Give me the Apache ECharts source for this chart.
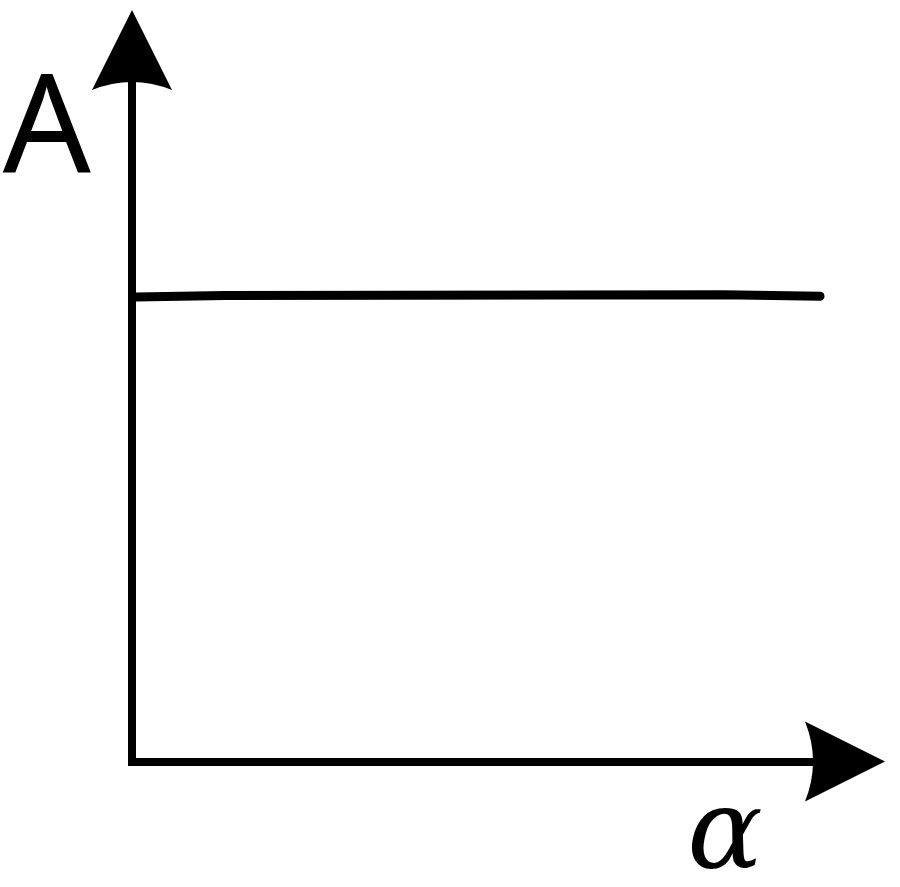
<!DOCTYPE html>
<html>
<head>
<meta charset="utf-8">
<script src="https://cdn.jsdelivr.net/npm/echarts@6/dist/echarts.min.js"></script>
<style>
    html, body { margin: 0; padding: 0; background: #fff; }
    #chart { width: 900px; height: 887px; }
</style>
</head>
<body>
<div id="chart"></div>
<script>
// 轴名称
var xName = 'α';
var yName = 'A';
// 水平线的取值（A 不随 α 变化）
var alphaValues = [0.06, 1.3, 8.3, 9.65];
var aValues = [6.53, 6.55, 6.56, 6.54];

// 箭头：尖端朝上，底边内凹
var arrowPath = 'path://M40,0 L80,80 Q40,64 0,80 Z';

var lineData = [];
for (var i = 0; i < alphaValues.length; i++) {
    lineData.push([alphaValues[i], aValues[i]]);
}

var chart = echarts.init(document.getElementById('chart'));
var option = {
    animation: false,
    backgroundColor: '#fff',
    grid: {
        left: 132,
        right: 55,
        top: 50,
        bottom: 125.5,
        outerBoundsMode: 'none'
    },
    xAxis: {
        type: 'value',
        min: 0,
        max: 10,
        name: xName,
        nameLocation: 'end',
        nameGap: -82,
        nameTextStyle: {
            fontFamily: 'DejaVu Serif',
            fontStyle: 'italic',
            fontSize: 112,
            color: '#000',
            align: 'right',
            verticalAlign: 'top',
            padding: [21, 0, 0, 0]
        },
        axisLine: {
            show: true,
            symbol: ['none', arrowPath],
            symbolSize: [80, 82],
            lineStyle: { color: '#000', width: 8, cap: 'square' }
        },
        axisTick: { show: false },
        axisLabel: { show: false },
        splitLine: { show: false }
    },
    yAxis: {
        type: 'value',
        min: 0,
        max: 10,
        name: yName,
        nameLocation: 'end',
        nameGap: -14,
        nameTextStyle: {
            fontFamily: 'Noto Sans',
            fontSize: 138,
            color: '#000',
            align: 'right',
            verticalAlign: 'top',
            padding: [0, 41, 0, 0]
        },
        axisLine: {
            show: true,
            symbol: ['none', arrowPath],
            symbolSize: [80, 80],
            lineStyle: { color: '#000', width: 8, cap: 'square' }
        },
        axisTick: { show: false },
        axisLabel: { show: false },
        splitLine: { show: false }
    },
    series: [{
        type: 'line',
        data: lineData,
        symbol: 'none',
        lineStyle: { color: '#000', width: 9, cap: 'round' }
    }]
};
chart.setOption(option);
</script>
</body>
</html>
